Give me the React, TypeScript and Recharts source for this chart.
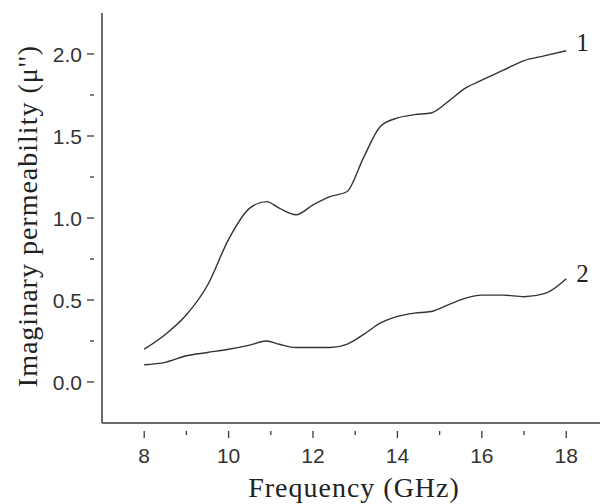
import { LineChart, Line, XAxis, YAxis, Label, LabelList } from 'recharts';

const freq = [8, 8.5, 9, 9.5, 10, 10.5, 10.9, 11.2, 11.6, 12, 12.4, 12.8, 13.2, 13.6, 14, 14.4, 14.8, 15.2, 15.6, 16, 16.5, 17, 17.5, 18];
const curve1 = [0.2, 0.29, 0.41, 0.59, 0.87, 1.06, 1.1, 1.06, 1.02, 1.08, 1.13, 1.16, 1.37, 1.56, 1.61, 1.63, 1.64, 1.71, 1.79, 1.84, 1.9, 1.96, 1.99, 2.02];
const curve2 = [0.105, 0.12, 0.16, 0.18, 0.2, 0.225, 0.25, 0.23, 0.21, 0.21, 0.21, 0.23, 0.29, 0.36, 0.4, 0.42, 0.43, 0.47, 0.51, 0.53, 0.53, 0.52, 0.54, 0.63];
const xTicks = [8, 9, 10, 11, 12, 13, 14, 15, 16, 17, 18];
const yTicks = [0, 0.25, 0.5, 0.75, 1, 1.25, 1.5, 1.75, 2];
const seriesNames = ['1', '2'];

const data = freq.map((f, i) => ({ f, mu1: curve1[i], mu2: curve2[i] }));

const AXIS = '#3a3a3a';
const SANS = '"Liberation Sans", Arial, sans-serif';
const SERIF = '"Liberation Serif", "Times New Roman", serif';

const XTick = ({ x, y, payload }: any) => {
  const major = payload.value % 2 === 0;
  return (
    <g>
      <line x1={x} x2={x} y1={y} y2={y + (major ? 7 : 4)} stroke={AXIS} strokeWidth={1.3} />
      {major && (
        <text x={x} y={y + 24} textAnchor="middle" dominantBaseline="central" fontFamily={SANS} fontSize={21} fill="#333">
          {payload.value}
        </text>
      )}
    </g>
  );
};

const YTick = ({ x, y, payload }: any) => {
  const major = (payload.value * 2) % 1 === 0;
  return (
    <g>
      <line x1={x - (major ? 7 : 4)} x2={x} y1={y} y2={y} stroke={AXIS} strokeWidth={1.3} />
      {major && (
        <text x={x - 12} y={y} textAnchor="end" dominantBaseline="central" fontFamily={SANS} fontSize={21} fill="#333">
          {payload.value.toFixed(1)}
        </text>
      )}
    </g>
  );
};

const endLabel = (name: string, dy: number) => (p: any) =>
  p.index === freq.length - 1 ? (
    <text x={p.x + 10} y={p.y + dy} dominantBaseline="central" fontFamily={SERIF} fontSize={25} fill="#222">
      {name}
    </text>
  ) : null;

export default function App() {
  return (
    <div style={{ position: 'absolute', left: 0, top: 0, width: 600, height: 504, background: '#fff' }}>
      <LineChart width={600} height={504} data={data} margin={{ top: 13, right: 0, bottom: 0, left: 0 }}>
        <XAxis
          dataKey="f"
          type="number"
          domain={[7, 18.8]}
          ticks={xTicks}
          height={81}
          stroke={AXIS}
          strokeWidth={1.5}
          tickLine={false}
          tick={<XTick />}
          interval={0}
        >
          <Label
            content={() => (
              <text x={354} y={497} textAnchor="middle" fontFamily={SERIF} fontSize={28} letterSpacing={1} fill="#222">
                Frequency (GHz)
              </text>
            )}
          />
        </XAxis>
        <YAxis
          type="number"
          domain={[-0.25, 2.25]}
          ticks={yTicks}
          width={102}
          stroke={AXIS}
          strokeWidth={1.5}
          tickLine={false}
          tick={<YTick />}
          interval={0}
        >
          <Label
            content={() => (
              <text x={37} y={216} transform="rotate(-90 37 216)" textAnchor="middle" fontFamily={SERIF} fontSize={28} letterSpacing={1} fill="#222">
                Imaginary permeability (μ'')
              </text>
            )}
          />
        </YAxis>
        <Line type="monotone" dataKey="mu1" stroke="#333" strokeWidth={1.4} dot={false} isAnimationActive={false}>
          <LabelList dataKey="mu1" content={endLabel(seriesNames[0], -8)} />
        </Line>
        <Line type="monotone" dataKey="mu2" stroke="#333" strokeWidth={1.4} dot={false} isAnimationActive={false}>
          <LabelList dataKey="mu2" content={endLabel(seriesNames[1], -5)} />
        </Line>
      </LineChart>
    </div>
  );
}
